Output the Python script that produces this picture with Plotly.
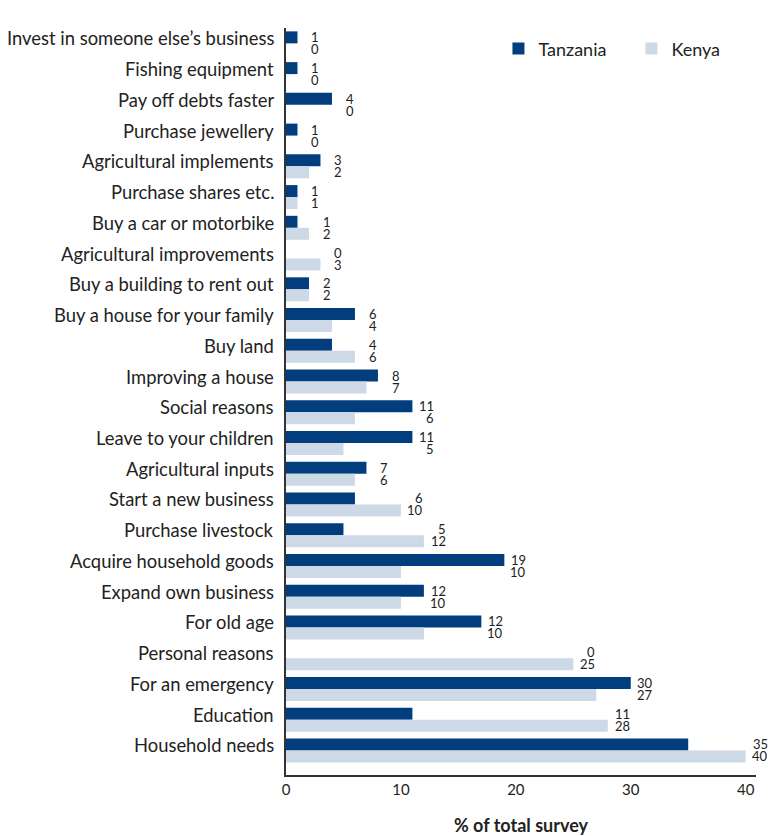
import plotly.graph_objects as go

categories = [
    "Invest in someone else’s business", "Fishing equipment", "Pay off debts faster",
    "Purchase jewellery", "Agricultural implements", "Purchase shares etc.",
    "Buy a car or motorbike", "Agricultural improvements", "Buy a building to rent out",
    "Buy a house for your family", "Buy land", "Improving a house", "Social reasons",
    "Leave to your children", "Agricultural inputs", "Start a new business",
    "Purchase livestock", "Acquire household goods", "Expand own business",
    "For old age", "Personal reasons", "For an emergency", "Education", "Household needs",
]
# bar lengths as drawn
tanzania = [1, 1, 4, 1, 3, 1, 1, 0, 2, 6, 4, 8, 11, 11, 7, 6, 5, 19, 12, 17, 0, 30, 11, 35]
kenya = [0, 0, 0, 0, 2, 1, 2, 3, 2, 4, 6, 7, 6, 5, 6, 10, 12, 10, 10, 12, 25, 27, 28, 40]
# value labels as printed
tanzania_labels = ["1", "1", "4", "1", "3", "1", "1", "0", "2", "6", "4", "8", "11", "11",
                   "7", "6", "5", "19", "12", "12", "0", "30", "11", "35"]
kenya_labels = ["0", "0", "0", "0", "2", "1", "2", "3", "2", "4", "6", "7", "6", "5",
                "6", "10", "12", "10", "10", "10", "25", "27", "28", "40"]
x_ticks = [0, 10, 20, 30, 40]

DARK = "#023e7d"
LIGHT = "#cdd9e6"
FONT = "Lato"
TXT = "#222222"

fig = go.Figure()
fig.add_trace(go.Bar(y=categories, x=tanzania, orientation="h", name="Tanzania",
                     marker=dict(color=DARK, line=dict(width=0))))
fig.add_trace(go.Bar(y=categories, x=kenya, orientation="h", name="Kenya",
                     marker=dict(color=LIGHT, line=dict(width=0))))

annotations = []
for c, t, k, tl, kl in zip(categories, tanzania, kenya, tanzania_labels, kenya_labels):
    m = max(t, k)
    annotations.append(dict(x=m, y=c, xref="x", yref="y", text=tl, showarrow=False,
                            xanchor="right", yanchor="middle", xshift=24, yshift=6,
                            font=dict(family=FONT, size=13, color=TXT)))
    annotations.append(dict(x=m, y=c, xref="x", yref="y", text=kl, showarrow=False,
                            xanchor="right", yanchor="middle", xshift=24, yshift=-6,
                            font=dict(family=FONT, size=13, color=TXT)))
    annotations.append(dict(x=0, y=c, xref="paper", yref="y", text=c, showarrow=False,
                            xanchor="right", yanchor="middle", xshift=-10, yshift=5,
                            font=dict(family=FONT, size=18.4, color=TXT)))

fig.update_layout(
    barmode="group", bargap=0.22, bargroupgap=0,
    width=768, height=836,
    margin=dict(l=286, r=12, t=28, b=61, autoexpand=False),
    paper_bgcolor="white", plot_bgcolor="white",
    font=dict(family=FONT, color=TXT),
    showlegend=True,
    legend=dict(orientation="h", x=0.452, xanchor="left", y=0.972, yanchor="middle",
                font=dict(family=FONT, size=18, color=TXT), traceorder="normal",
                entrywidth=88, entrywidthmode="pixels", bgcolor="rgba(0,0,0,0)"),
    annotations=annotations,
    xaxis=dict(range=[0, 40.9], tickvals=x_ticks, showgrid=False, zeroline=False,
               showline=True, linecolor="#333333", linewidth=1.5, ticks="",
               automargin=False,
               tickfont=dict(family=FONT, size=15, color=TXT),
               title=dict(text="<b>% of total survey</b>", standoff=28,
                          font=dict(family=FONT, size=18, color=TXT))),
    yaxis=dict(categoryorder="array", categoryarray=categories, autorange=False,
               range=[23.8, -0.5], showticklabels=False, showgrid=False, zeroline=False,
               showline=True, linecolor="#333333", linewidth=1.5, ticks="",
               automargin=False),
)

# remove the browser's default 8px page margin so the figure fills the window
fig.write_html("out.html", config={"displayModeBar": False},
               post_script="document.body.style.margin='0';document.body.style.overflow='hidden';")
